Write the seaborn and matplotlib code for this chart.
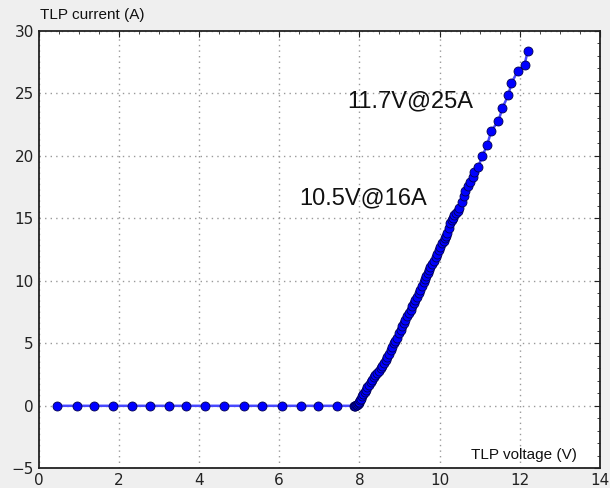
import matplotlib
matplotlib.use("Agg")
import matplotlib.pyplot as plt
import seaborn as sns
import pandas as pd
from matplotlib.ticker import MultipleLocator

# TLP I-V measurement: voltage (V) and current (A)
voltage = [0.46, 0.95, 1.37, 1.85, 2.33, 2.78, 3.26, 3.68, 4.16, 4.62, 5.13, 5.58,
           6.06, 6.54, 6.96, 7.45,
           7.86, 7.88, 7.90, 7.92, 7.94, 7.96, 7.98, 8.00, 8.02, 8.04, 8.07, 8.10,
           8.13, 8.16, 8.20, 8.24, 8.28, 8.32, 8.36, 8.40, 8.44, 8.48, 8.53, 8.57,
           8.61, 8.66, 8.70, 8.74, 8.78, 8.82, 8.86, 8.90, 8.94, 8.99, 9.03, 9.07,
           9.11, 9.15, 9.19, 9.24, 9.28, 9.32, 9.36, 9.40, 9.44, 9.48, 9.52, 9.57,
           9.61, 9.64, 9.67, 9.70, 9.73, 9.77, 9.81, 9.85, 9.90, 9.94, 9.98, 10.02,
           10.07, 10.10, 10.13, 10.16, 10.19, 10.23, 10.27, 10.30, 10.33, 10.37,
           10.40, 10.45, 10.49, 10.55, 10.60, 10.63, 10.71, 10.75, 10.84, 10.85,
           10.96, 11.07, 11.19, 11.29, 11.47, 11.57, 11.72, 11.79, 11.95, 12.12, 12.20]
current = [0.0, 0.0, 0.0, 0.0, 0.0, 0.0, 0.0, 0.0, 0.0, 0.0, 0.0, 0.0,
           0.0, 0.0, 0.0, 0.0,
           0.00, 0.00, 0.01, 0.03, 0.06, 0.12, 0.20, 0.32, 0.45, 0.58, 0.75, 0.92,
           1.10, 1.30, 1.50, 1.70, 1.90, 2.10, 2.30, 2.48, 2.65, 2.80, 3.00, 3.22,
           3.45, 3.68, 3.90, 4.18, 4.45, 4.72, 5.00, 5.22, 5.45, 5.80, 6.08, 6.35,
           6.62, 6.90, 7.15, 7.42, 7.70, 7.95, 8.20, 8.45, 8.70, 9.00, 9.28, 9.58,
           9.90, 10.15, 10.40, 10.65, 10.90, 11.12, 11.38, 11.62, 11.90, 12.15, 12.45, 12.72,
           13.00, 13.22, 13.42, 13.62, 13.80, 14.20, 14.60, 14.85, 15.05, 15.25,
           15.40, 15.60, 15.80, 16.30, 16.80, 17.20, 17.60, 17.90, 18.30, 18.70,
           19.10, 20.00, 20.90, 22.00, 22.80, 23.85, 24.90, 25.80, 26.80, 27.30, 28.40]

annotations = ["11.7V@25A", "10.5V@16A"]
annotation_pos = [(7.7, 24.4), (6.5, 16.6)]

df = pd.DataFrame({"V": voltage, "I": current})

sns.set_style("white")
plt.rcParams["font.family"] = ["DejaVu Sans"]

fig = plt.figure(figsize=(6.10, 4.88), dpi=100, facecolor="#efefef")
ax = fig.add_axes([0.0634, 0.0404, 0.9200, 0.8961])
ax.set_facecolor("white")

sns.lineplot(data=df, x="V", y="I", sort=False, estimator=None, ax=ax,
             color="#4848ff", linewidth=1.8, zorder=2)
sns.scatterplot(data=df, x="V", y="I", ax=ax, color="#0000ff", s=42,
                edgecolor="#000050", linewidth=0.6, zorder=3)

ax.set_xlim(0, 14)
ax.set_ylim(-5, 30)
ax.xaxis.set_major_locator(MultipleLocator(2))
ax.xaxis.set_minor_locator(MultipleLocator(0.5))
ax.yaxis.set_major_locator(MultipleLocator(5))
ax.yaxis.set_minor_locator(MultipleLocator(1))
ax.tick_params(which="both", direction="in", top=True, right=True, colors="#222222",
               labelsize=11)
ax.tick_params(which="major", length=4, width=0.8)
ax.tick_params(which="minor", length=2, width=0.6)
ax.grid(True, which="major", linestyle=(0, (1, 3)), color="#999999", linewidth=1.0)
for s in ax.spines.values():
    s.set_color("#222222")
    s.set_linewidth(1.3)
ax.set_xlabel("")
ax.set_ylabel("")

for txt, (x, y) in zip(annotations, annotation_pos):
    ax.text(x, y, txt, fontsize=17, family="Liberation Sans", va="center", ha="left",
            color="#111111")

ax.text(0.770, 0.030, "TLP voltage (V)", transform=ax.transAxes, fontsize=11,
        family="Liberation Sans", va="center", ha="left", color="#111111")
fig.text(0.0656, 0.969, "TLP current (A)", fontsize=11, family="Liberation Sans",
         va="center", ha="left", color="#111111")

fig.savefig("out.png", dpi=100, facecolor=fig.get_facecolor())
